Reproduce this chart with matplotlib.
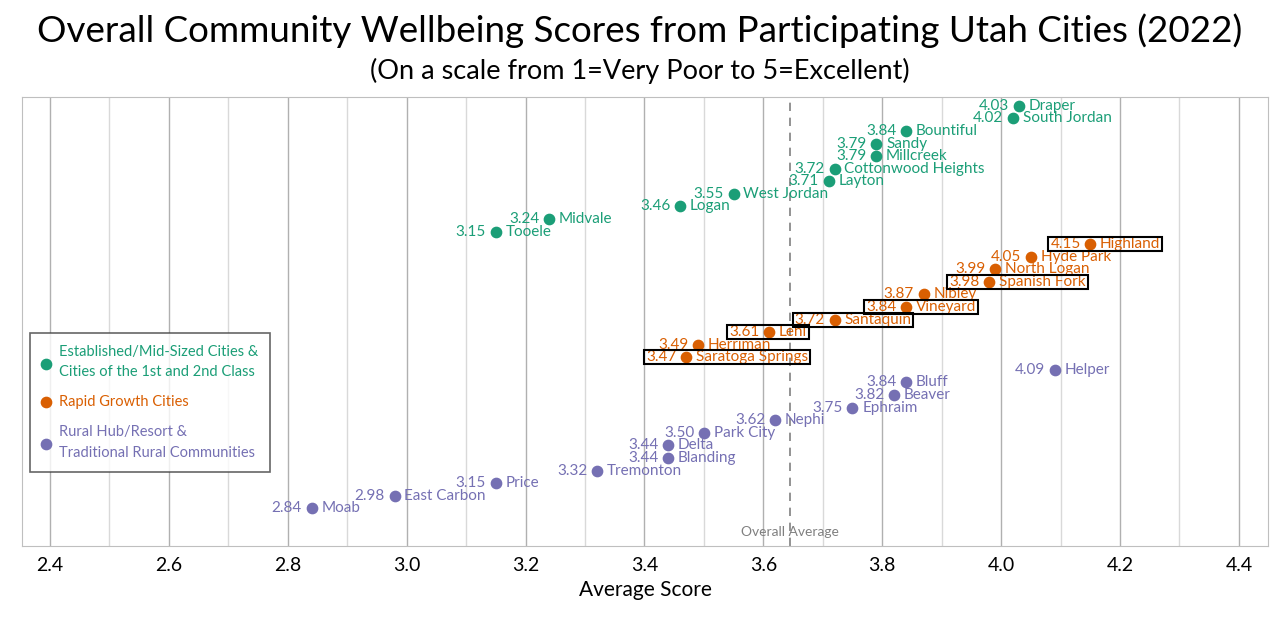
import matplotlib
matplotlib.use("Agg")
import matplotlib.pyplot as plt
from matplotlib.patches import Rectangle

plt.rcParams['font.family'] = ['Lato', 'DejaVu Sans']

green_names = ["Draper","South Jordan","Bountiful","Sandy","Millcreek","Cottonwood Heights","Layton","West Jordan","Logan","Midvale","Tooele"]
green_vals = [4.03,4.02,3.84,3.79,3.79,3.72,3.71,3.55,3.46,3.24,3.15]
orange_names = ["Highland","Hyde Park","North Logan","Spanish Fork","Nibley","Vineyard","Santaquin","Lehi","Herriman","Saratoga Springs"]
orange_vals = [4.15,4.05,3.99,3.98,3.87,3.84,3.72,3.61,3.49,3.47]
orange_boxed = ["Highland","Spanish Fork","Vineyard","Santaquin","Lehi","Saratoga Springs"]
purple_names = ["Helper","Bluff","Beaver","Ephraim","Nephi","Park City","Delta","Blanding","Tremonton","Price","East Carbon","Moab"]
purple_vals = [4.09,3.84,3.82,3.75,3.62,3.50,3.44,3.44,3.32,3.15,2.98,2.84]
overall_avg = 3.645
series_labels = ["Established/Mid-Sized Cities &\nCities of the 1st and 2nd Class",
                 "Rapid Growth Cities",
                 "Rural Hub/Resort &\nTraditional Rural Communities"]
colors = ["#1b9e77", "#d95f02", "#7570b3"]

fig = plt.figure(figsize=(12.8, 6.21), dpi=100)
ax = fig.add_axes([22/1280, (621-546)/621, (1268-22)/1280, (546-97)/621])

ax.set_xlim(2.353, 4.449)
ax.set_ylim(35.0, -0.7)
ax.set_xticks([2.4,2.6,2.8,3.0,3.2,3.4,3.6,3.8,4.0,4.2,4.4])
ax.set_xticks([2.5,2.7,2.9,3.1,3.3,3.5,3.7,3.9,4.1,4.3], minor=True)
ax.grid(True, which='major', axis='x', color='#b0b0b0', lw=1)
ax.grid(True, which='minor', axis='x', color='#d9d9d9', lw=1)
ax.set_axisbelow(True)
ax.set_yticks([])
ax.tick_params(axis='x', which='both', length=0, labelsize=14, pad=8)
for s in ax.spines.values():
    s.set_color('#bfbfbf')
ax.set_xlabel("Average Score", fontsize=15, labelpad=4)

ax.axvline(overall_avg, color='#808080', ls=(0, (5, 4)), lw=1.2)
ax.text(overall_avg, 33.9, "Overall Average", color='#808080', fontsize=10, ha='center', va='center')

boxes = []
row = 0
for names, vals, c, lab in [(green_names, green_vals, colors[0], series_labels[0]),
                            (orange_names, orange_vals, colors[1], series_labels[1]),
                            (purple_names, purple_vals, colors[2], series_labels[2])]:
    ys = list(range(row, row + len(names)))
    ax.scatter(vals, ys, color=c, s=55, zorder=3, label=lab)
    for n, v, y in zip(names, vals, ys):
        t1 = ax.annotate(f"{v:.2f}", (v, y), xytext=(-7, 0), textcoords='offset points',
                         ha='right', va='center', color=c, fontsize=11)
        t2 = ax.annotate(n, (v, y), xytext=(7, 0), textcoords='offset points',
                         ha='left', va='center', color=c, fontsize=11)
        if n in orange_boxed:
            boxes.append((t1, t2))
    row += len(names)

leg = ax.legend(loc='upper left', bbox_to_anchor=(8/1246, (546-333)/449), fontsize=10.5,
                frameon=True, fancybox=False, edgecolor='#404040', handletextpad=0.6,
                borderpad=0.8, labelspacing=1.1, handlelength=0.6, borderaxespad=0)
for t, c in zip(leg.get_texts(), colors):
    t.set_color(c)
    t.set_linespacing(1.6)
leg.get_frame().set_linewidth(1.2)

fig.canvas.draw()
r = fig.canvas.get_renderer()
for t1, t2 in boxes:
    b1 = t1.get_window_extent(r); b2 = t2.get_window_extent(r)
    x0 = b1.x0 - 2; x1 = b2.x1 + 2
    y0 = min(b1.y0, b2.y0); y1 = max(b1.y1, b2.y1)
    fig.patches.append(Rectangle((x0/1280, y0/621), (x1-x0)/1280, (y1-y0)/621,
                                 transform=fig.transFigure, fill=False, ec='black', lw=1.5, zorder=5))

fig.text(0.5, 1-31/621, "Overall Community Wellbeing Scores from Participating Utah Cities (2022)",
         ha='center', va='center', fontsize=26.5)
fig.text(0.5, 1-71/621, "(On a scale from 1=Very Poor to 5=Excellent)",
         ha='center', va='center', fontsize=19.5)

fig.savefig("out.png", dpi=100)
